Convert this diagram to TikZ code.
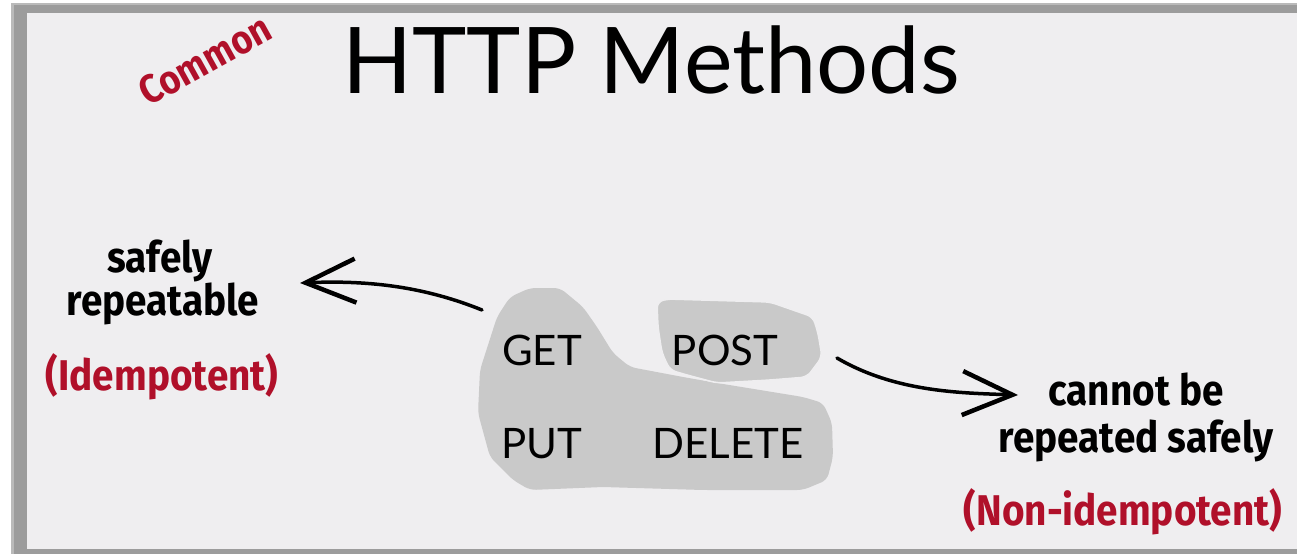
\documentclass[tikz,border=0pt]{standalone}
\usepackage{fontspec}
\usetikzlibrary{arrows.meta}
\newfontfamily\titlefont{Lato}
\newfontfamily\handfont[FakeStretch=0.9]{Fira Sans}
\definecolor{bgpanel}{HTML}{EFEEF0}
\definecolor{framegrey}{HTML}{9C9C9C}
\definecolor{blobgrey}{HTML}{C9C9C9}
\definecolor{handred}{HTML}{B0102A}
\tikzset{
  titletext/.style={font=\titlefont\fontsize{92}{92}\selectfont, anchor=base, inner sep=0pt},
  methodtext/.style={font=\titlefont\fontsize{42}{42}\selectfont, anchor=base, inner sep=0pt},
  handtext/.style={font=\handfont\bfseries\fontsize{43}{43}\selectfont, anchor=base, inner sep=0pt},
  redtext/.style={handtext, text=handred},
  blob/.style={fill=blobgrey, rounded corners=6pt},
  sketcharrow/.style={line width=3.5pt, line cap=round, -{Straight Barb[length=50pt, width=44pt, line width=4.5pt]}}
}
\begin{document}
\begin{tikzpicture}[x=1pt,y=-1pt]
\useasboundingbox (0,0) rectangle (1297,554);
\fill[white] (0,0) rectangle (1297,554);
\fill[framegrey!70] (11,3) rectangle (1297,554);
\fill[framegrey] (14,5) rectangle (1297,554);
\fill[bgpanel] (27,13) rectangle (1297,549);
% blobs
\path[blob] (530,288) -- (560,288) -- (583,307) -- (597,327) -- (613,353) -- (630,367) -- (683,377) -- (717,383) -- (803,397) -- (823,403) -- (832,423) -- (833,457) -- (827,480) -- (803,490) -- (703,490) -- (603,487) -- (530,490) -- (513,480) -- (490,457) -- (478,413) -- (480,370) -- (497,317) -- (510,297) -- cycle;
\path[blob, draw=bgpanel, line width=1.5pt] (657,302) -- (667,299) -- (770,302) -- (813,317) -- (818,333) -- (822,357) -- (807,377) -- (770,380) -- (717,383) -- (687,375) -- (670,370) -- (662,353) -- (658,327) -- cycle;
% title
\node[titletext] (title) at (651,93) {HTTP Methods};
\node[redtext, rotate=29, anchor=center, font=\handfont\bfseries\fontsize{40}{40}\selectfont] (common) at (205,60) {Common};
% methods
\node[methodtext] (get) at (542,365) {GET};
\node[methodtext] (post) at (725,365) {POST};
\node[methodtext] (put) at (542,458) {PUT};
\node[methodtext] (delete) at (728,458) {DELETE};
% left labels
\node[handtext] (safely) at (160,272) {safely};
\node[handtext] (repeatable) at (163,315) {repeatable};
\node[redtext] (idem) at (162,390) {(Idempotent)};
% right labels
\node[handtext] (cannot) at (1136,405) {cannot be};
\node[handtext] (repeated) at (1136,452) {repeated safely};
\node[redtext] (nonidem) at (1123,525) {(Non-idempotent)};
% arrows
\coordinate (lstart) at (482,310);
\coordinate (lend) at (300,283);
\coordinate (rstart) at (837,358);
\coordinate (rend) at (1018,395);
\draw[sketcharrow] (lstart) .. controls (425,287) and (370,280) .. (lend);
\draw[sketcharrow] (rstart) .. controls (895,392) and (960,393) .. (rend);
\end{tikzpicture}
\end{document}
